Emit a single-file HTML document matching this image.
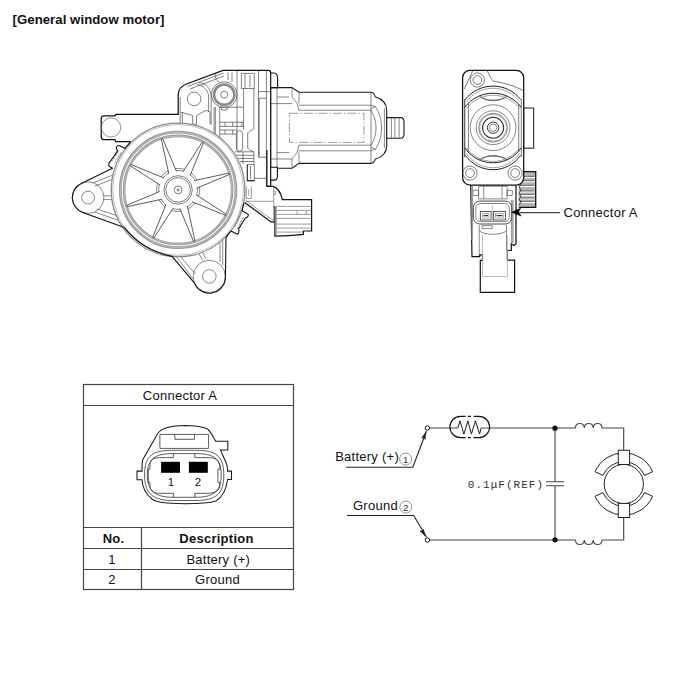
<!DOCTYPE html>
<html><head><meta charset="utf-8">
<style>
html,body{margin:0;padding:0;background:#fff;width:700px;height:677px;overflow:hidden}
svg{display:block}
text{font-family:"Liberation Sans",sans-serif;fill:#111;letter-spacing:0.25px}
.mono{font-family:"Liberation Mono",monospace}
</style></head><body>
<svg width="700" height="677" viewBox="0 0 700 677">
<g id="left">
<g fill="#fff" stroke="#1a1a1a" stroke-width="1.1">
<path d="M270.5,87.6 H292 L299,92.3 H371 C373,92.3 374.5,94 375.2,96.8 C382,99 386.7,103 386.7,110 V146 C386.7,153 382,157 375.2,159.2 C374.5,162 373,163.4 371,163.4 H299 L292,168.2 H270.5 Z"/>
<path d="M386.7,117.6 H400.5 C403,117.6 404,119.5 404,122 V134 C404,136.5 403,138.2 400.5,138.2 H386.7 Z"/>
</g>
<g fill="none" stroke="#555" stroke-width="0.7">
<path d="M391.4,117.6 V138.2 M394.9,117.6 V138.2 M399.1,117.6 V138.2"/>
<path d="M277,97 H289 M270.5,103.6 H292 M277,152.6 H289 M270.5,159 H292 M277,87.6 V168.2"/>
<path d="M292,87.6 V97 L297,103 L299,110.7 M299,92.5 V103.5 M292,168.2 V158.8 L297,152.8 L299,145 M299,163.2 V152.3"/>
<path d="M299,105.2 H371 M299,110.2 H371 M299,150.8 H371 M299,145.2 H371"/>
<path d="M371,92.3 V163.4 M384.4,108 V148 M371,105.2 L375.5,106.6 L371,108.5 M371,150.6 L375.5,149.2 L371,147.3"/>
<path d="M371,110.2 C374.5,116 376,122 376,128 C376,134 374.5,140 371,145.2 M375.5,106.6 C379.5,113 381.6,120 381.6,128 C381.6,136 379.5,143 375.5,149.2"/>
</g>
<path d="M289.4,113.3 H363.9 V142.4 H289.4 Z" fill="none" stroke="#777" stroke-width="0.7" stroke-dasharray="9,2,1.5,2"/>
<g fill="#fff" stroke="#111" stroke-width="1.25">
<path d="M223,70.4 H268.5 C270,70.4 270.7,71.3 270.7,73 V186.3 H245 L238,202 H178 V141.6 H115.6 L115,139.7 H104 C102.3,139.7 101.2,138.5 101.2,136.5 V119 C101.2,117 102.3,115.9 104,115.9 H115 L115.6,114.3 H178.2 V95 C178.2,90 181,86 186.5,84 Z" stroke="none"/>
<path d="M266.4,186.3 H270.7 V73 C270.7,71.3 270,70.4 268.5,70.4 H223 L186.5,84 C181,86 178.2,90 178.2,95 V114.3 H115.6 L115,115.9 H104 C102.3,115.9 101.2,117 101.2,119 V136.5 C101.2,138.5 102.3,139.7 104,139.7 H115 L115.6,141.6 H130.6" fill="none"/>
<path d="M270.7,73 H274 C276.6,73 277.6,75 277.6,78.5 V87.6 H270.7 Z" stroke-width="1.1"/>
<path d="M270.7,167.3 H277.4 V176.5 C277.4,179 276.4,180.1 274,180.1 H270.7 Z" stroke-width="1.1"/>
</g>
<g fill="none" stroke="#4a4a4a" stroke-width="0.7">
<path d="M187.5,86.5 L223.5,73 M190,89 L224,76"/>
<circle cx="194.1" cy="98.9" r="6.8"/>
<path d="M180.2,97 V125 M182.4,112 V123 M180.2,112 L192.7,115.5 V124.3 H196.5 V115.5 L206,110.3 L210,112 V124 M208.6,97 V112 M211.2,97 V125 M214.1,107 V140 M215.3,107 V140 M219.7,107 V140"/>
<path d="M197,84.5 C204,85.5 208.6,91 208.6,97 M199,82.5 C207,83.5 211.2,90 211.2,97"/>
<circle cx="224.2" cy="94.7" r="3.5"/><circle cx="224.2" cy="94.7" r="12.9"/>
<path d="M221.5,107.6 V110 H227 V107.6"/>
<path d="M237,70.5 V150 M243.6,88.5 V130 M253.9,88.5 V128 C253.9,131 247.7,130 247.7,134 V147 C247.7,151 253.9,150 253.9,153 V164.6 M258.5,70.5 V157.2 H266.4 M259.2,98.2 V157.2 M266.4,70.5 V186.3 M258.5,91.6 H270.7 M258.5,98.2 H266.4 M219.7,107.2 H243.6"/>
<path d="M241.4,73.4 H254.3 V88.5 H241.4 Z M245,73.4 V88.5 M250,75 V87 M247.3,164.6 H254.4 V180.6 H247.3 M250.5,166 V179"/>
<path d="M220,122.2 H244 M220,126.4 H244 M220,130 H236.4 M220,134.1 H236.4 M225,122.2 V126.4 M232.7,122.2 V126.4 M242,122.2 V126.4 M225,130 V134.1 M232.7,130 V134.1"/>
<path d="M235,151.8 H254 M235,155.3 H254 M237,158.4 H254 M240,161.5 H254 M243,152 V164 M254.4,178.4 H266.4"/>
<rect x="236.4" y="130.5" width="6.2" height="20.7" rx="3"/>
<path d="M247.3,164.6 V180.6 H254.4" stroke="#222" stroke-width="1.1"/>
<path d="M228,72.5 V80 M232,72.5 V82 M216,73 C214,77 216,80 219,82"/>
</g>
<circle cx="224.2" cy="94.7" r="10.2" fill="none" stroke="#8a8a8a" stroke-width="2.6"/>
<circle cx="111.1" cy="127.5" r="9.6" fill="none" stroke="#666" stroke-width="0.7"/>
<path d="M245,186.4 H273.1 C277.5,188 281,193 282.3,199.6 H311.6 V231 H303.4 V234.4 C295,235.5 285,236.2 274.9,236.2 V221.9 H270.9 L244.6,202.4 Z" fill="#fff" stroke="none"/>
<path d="M266.9,150 V186.4 H273.1 C277.5,188 281,193 282.3,199.6 H311.6 V231 H303.4 V234.4 C295,235.5 285,236.2 274.9,236.2 V206 M244.6,202.4 L270.9,221.9 H274.9" fill="none" stroke="#111" stroke-width="1.2"/>
<g fill="none" stroke="#666" stroke-width="0.65">
<path d="M246,201.3 H273.7 M273.7,186.4 V221.9 M245.5,200 L271.5,219.5 H273.7 M276,206.4 H311.6 M276,210.4 H311.6 M276,214.4 H311.6 M276,218.4 H311.6 M276,224.1 H311.6 M276,228.1 H311.6 M276,232.1 H303.4 M297.1,210.4 V214.4 M306.3,210.4 V214.4 M273.7,191 H275.4 V194.4 H273.7 M246.3,186.4 V198.4 H251.4 V186.4 M248.8,189 V196"/>
</g>
<path d="M276.4,206.4 V236" stroke="#999" stroke-width="0.9"/>
<path d="M130.6,141.6 L125,148.5 L119.8,145.8 C118,145 116.5,146 116.2,148.2 L117.6,150.9 L110.6,161 C108.5,163 108.4,165.5 109.3,166.3 L112.5,168.2 L81.2,183.4 A15.8,15.8 0 0 0 82.7,212.45 L124.4,227.6 L160,252 L172.1,256.4 L194.3,282.9 A16.1,16.1 0 0 0 225.4,278 L226,237.9 L231,231 L237.5,234.3 C239,233.5 239.5,232.5 238.6,228.9 L245.1,218.3 L247.5,217.1 C248.6,215.5 248.3,214.5 248.1,214.2 L241.9,210.6 L243.9,203.2 L200,150 Z" fill="#fff" stroke="none"/>
<g fill="none" stroke="#555" stroke-width="0.7">
<circle cx="88.1" cy="197.6" r="15.8"/><circle cx="88.1" cy="197.6" r="6.4"/>
<path d="M93,183 L118,173 M95,186 L118,177 M95,212 L120,221 M97,209 L121,217 M103.6,195.8 H114 M103.6,199.6 H114"/>
<circle cx="209.3" cy="276.4" r="16.1"/><circle cx="209.3" cy="276.4" r="6.8"/>
<path d="M176,256 L193,279 M179,255 L195,273.5 M222.7,239 V265 M220,241 V262 M198,252 L203,260.5 M201.5,250.5 L206,259"/>
</g>
<circle cx="178.1" cy="189.9" r="66.8" fill="#fff" stroke="#8a8a8a" stroke-width="1.3"/>
<circle cx="178.1" cy="189.9" r="65.4" fill="none" stroke="#b0b0b0" stroke-width="0.8"/>
<path d="M124.4,227.6 C138,244 152,252 172.1,256.4" fill="none" stroke="#111" stroke-width="1.25"/>
<circle cx="178.1" cy="189.9" r="57.8" fill="none" stroke="#9a9a9a" stroke-width="2.8"/>
<circle cx="178.1" cy="189.9" r="54" fill="none" stroke="#9a9a9a" stroke-width="2.6"/>
<circle cx="178.1" cy="189.9" r="57.8" fill="none" stroke="#ddd" stroke-width="0.5"/>
<circle cx="178.1" cy="189.9" r="54" fill="none" stroke="#ddd" stroke-width="0.5"/>
<circle cx="178.1" cy="189.9" r="21.5" fill="none" stroke="#555" stroke-width="0.7"/>
<circle cx="178.1" cy="189.9" r="19.4" fill="none" stroke="#555" stroke-width="0.7"/>
<path d="M176.44,171.34 L162.73,138.65 L161.3,139.1 L168.81,173.75 M190.05,175.6 L203.47,142.79 L202.14,142.1 L182.96,171.91 M196.66,188.24 L229.35,174.53 L228.9,173.1 L194.25,180.61 M192.4,201.85 L225.21,215.27 L225.9,213.94 L196.09,194.76 M179.76,208.46 L193.47,241.15 L194.9,240.7 L187.39,206.05 M166.15,204.2 L152.73,237.01 L154.06,237.7 L173.24,207.89 M159.54,191.56 L126.85,205.27 L127.3,206.7 L161.95,199.19 M163.8,177.95 L130.99,164.53 L130.3,165.86 L160.11,185.04 " fill="#fff" stroke="#333" stroke-width="0.8"/>
<g fill="none" stroke="#444" stroke-width="0.7">
<circle cx="178.1" cy="189.9" r="14.2"/><circle cx="178.1" cy="189.9" r="12.3"/>
<circle cx="178.1" cy="189.9" r="3.9"/>
</g>
<circle cx="178.1" cy="189.9" r="1.6" fill="#999"/>
<path d="M130.6,141.6 L125,148.5 L119.8,145.8 C118,145 116.5,146 116.2,148.2 L117.6,150.9 L110.6,161 C108.5,163 108.4,165.5 109.3,166.3 L112.5,168.2 L81.2,183.4 A15.8,15.8 0 0 0 82.7,212.45 L124.4,227.6 M172.1,256.4 L194.3,282.9 A16.1,16.1 0 0 0 225.4,278 L226,237.9 L228,234.6 L231,231 L237.5,234.3 C239,233.5 239.5,232.5 238.6,228.9 L245.1,218.3 L247.5,217.1 C248.6,215.5 248.3,214.5 248.1,214.2 L241.9,210.6 L243.9,203.2" fill="none" stroke="#111" stroke-width="1.1" stroke-linejoin="round"/>
<path d="M118.5,151.5 L112,161.5 M121,152.5 L114.5,163 M240.5,211.5 L234.5,227 M243,217 L237.5,229" fill="none" stroke="#666" stroke-width="0.7" stroke-dasharray="2.5,1"/>
</g>
<g id="right">
<path d="M519.5,171.6 H535.7 V207.4 H519 L518,205 L519.5,203 L518,200 L519.5,197.5 L518,195 L519.5,192.5 L518,190 L519.5,187.5 L518,185 L519.5,182 Z" fill="#b3b3b3" stroke="none"/>
<path d="M519.5,171.6 H535.7 V207.4 H519" fill="none" stroke="#111" stroke-width="1.3"/>
<path d="M520,177.5 H535 M520,181.7 H535 M520,186.5 H535 M520,192 H535 M520,195.6 H535 M520,199 H535 M520,202.5 H535" stroke="#fff" stroke-width="1.1"/>
<path d="M520,176.4 H534 M520,180.6 H534 M520,185.4 H534 M520,190.9 H534 M520,194.5 H534 M520,197.9 H534 M520,201.4 H534" stroke="#555" stroke-width="0.7"/>
<path d="M519,176 L521,178 L519,181 L521,184 L519,187 L521,190 L519,193 L521,196 L519,199 L521,202 L519,205" fill="none" stroke="#222" stroke-width="0.8"/>
<g fill="#fff" stroke="#111" stroke-width="1.2">
<path d="M470.6,180 H516 V243.8 L514,245.5 L511.3,243.8 V250.5 H507.4 V260.2 H514.6 V292.3 H480.3 V260.4 H482.5 V254.9 H479.7 V256.6 H472 Z"/>
</g>
<g fill="none" stroke="#555" stroke-width="0.7">
<path d="M478.6,186.3 H507.1 V198.9 H478.6 Z M483.7,186.3 V198.9 M502,186.3 V198.9 M472.9,190.3 H478.6 V195.4 H472.9 Z M507.1,190.3 H512.3 V195.4 H507.1 Z"/>
<path d="M479.2,225 V254.9 M506.5,225 V250.5 M479.2,230.5 C483,235.5 503,235.5 506.5,230.5 M482,225.7 H492.3 V228.6 H482 Z M515.7,208 V243 M513,200 V243"/>
</g>
<path d="M482.5,235 V276.5 H507.4 V235" fill="none" stroke="#aaa" stroke-width="0.8"/>
<path d="M472.2,186 V240 M511.8,200 V243" fill="none" stroke="#999" stroke-width="1.6"/>
<g fill="#fff" stroke="#111" stroke-width="1.25">
<path d="M523.7,108 H533.7 V148.2 H523.7 Z" stroke-width="1"/>
<rect x="462.6" y="70.3" width="61.1" height="114.8" rx="7.5"/>
</g>
<g fill="none" stroke="#444" stroke-width="0.7">
<circle cx="477.4" cy="80" r="7.1"/><circle cx="477.4" cy="80" r="4.4"/>
<circle cx="470" cy="173.1" r="7.1"/><circle cx="470" cy="173.1" r="4.4"/>
<circle cx="515.1" cy="173.1" r="7.1"/><circle cx="515.1" cy="173.1" r="4.4"/>
<path d="M472.9,70.3 L464.3,89.1 M487.1,70.3 C489,75 491,79 493.4,81.1 C503,82.5 515,86 523,90.3"/>
<path d="M464.7,99 V157"/>
<path d="M468.4,104 V152 M518.7,104 V152"/>
<path d="M479.3,95.6 C486,102.5 500,102.5 507.2,95.6 M481,97.5 C487,101 499,101 505.5,97.5 M479.3,160.5 C486,153.8 500,153.8 507.2,160.5 M481,158.5 C487,155.5 499,155.5 505.5,158.5"/>
</g>
<path d="M465.20,99.52 A35.5,35.5 0 0 1 520.80,99.52 M464.70,107.40 A35.3,35.3 0 0 1 521.30,107.40 M464.50,147.50 A34.2,34.2 0 0 0 521.30,147.80 M465.50,155.48 A33.7,33.7 0 0 0 520.50,155.48" fill="none" stroke="#222" stroke-width="1"/>
<path d="M466.50,101.43 A33.3,33.3 0 0 1 519.50,101.43 M466.50,108.33 A33.3,33.3 0 0 1 519.50,108.33 M466.50,147.93 A32.8,32.8 0 0 0 519.50,147.93 M466.50,153.40 A31.7,31.7 0 0 0 519.50,153.40" fill="none" stroke="#777" stroke-width="0.7"/>
<path d="M464.7,99 V157 M521.3,99 V157" fill="none" stroke="#444" stroke-width="0.7"/>
<g fill="none" stroke="#555" stroke-width="0.7">
<circle cx="493.1" cy="127.7" r="22.9"/>
<circle cx="493.1" cy="127.7" r="16.9"/>
<circle cx="493.1" cy="127.7" r="3.7"/>
</g>
<circle cx="493.1" cy="127.7" r="14.4" fill="none" stroke="#555" stroke-width="0.7"/><circle cx="493.1" cy="127.7" r="13.5" fill="none" stroke="#888" stroke-width="0.7"/>
<circle cx="493.1" cy="127.7" r="10.5" fill="none" stroke="#333" stroke-width="1.1"/>
<circle cx="493.1" cy="127.7" r="5.7" fill="none" stroke="#333" stroke-width="1"/>
<g fill="#fff" stroke="#333" stroke-width="0.9">
<rect x="473.4" y="201.1" width="38.3" height="22.9" rx="6.5"/>
<rect x="475.8" y="203.5" width="33.5" height="18.1" rx="4.5" fill="none" stroke="#777" stroke-width="0.9"/>
<rect x="480.3" y="211.4" width="10.8" height="8.6" stroke-width="0.8"/>
<rect x="493.4" y="211.4" width="12" height="8.6" stroke-width="0.8"/>
<path d="M482.5,213.5 H489 V218 H482.5 Z M495.5,213.5 H503.4 V218 H495.5 Z" stroke="#888" stroke-width="0.7"/>
<path d="M483.5,215.7 H488 M496.5,215.7 H502.4" stroke="#333" stroke-width="1.2"/>
<path d="M492.3,205 V222" stroke="#999" stroke-width="0.6"/>
</g>
</g>
<text x="12.5" y="24" font-size="13.2" font-weight="bold" style="letter-spacing:0.05px">[General window motor]</text>

<!-- TABLE -->
<g fill="none" stroke="#444" stroke-width="1.2">
<rect x="83.5" y="384.5" width="210" height="205"/>
<line x1="83.5" y1="405.5" x2="293.5" y2="405.5"/>
<line x1="83.5" y1="527.5" x2="293.5" y2="527.5"/>
<line x1="83.5" y1="548.5" x2="293.5" y2="548.5"/>
<line x1="83.5" y1="569.5" x2="293.5" y2="569.5"/>
<line x1="141.5" y1="527.5" x2="141.5" y2="589.5"/>
</g>
<text x="180" y="400" font-size="13" text-anchor="middle">Connector A</text>
<text x="113.5" y="542.5" font-size="13" font-weight="bold" text-anchor="middle">No.</text>
<text x="216.5" y="542.5" font-size="13" font-weight="bold" text-anchor="middle">Description</text>
<text x="112" y="563.5" font-size="13" text-anchor="middle">1</text>
<text x="218.3" y="563.5" font-size="13" text-anchor="middle">Battery (+)</text>
<text x="112" y="584" font-size="13" text-anchor="middle">2</text>
<text x="217.5" y="584" font-size="13" text-anchor="middle">Ground</text>

<!-- connector face -->
<g fill="none" stroke="#1a1a1a" stroke-width="1.05">
<path d="M185,425.5 C172,425.6 162,427.5 157.9,433.3 L142.6,459.9 C142,463 142,467 142,471.1 L137,471.1 V479.7 H142 C142.3,486 144.5,493 151.9,499 C157,502.5 165,503.5 185,503.7 C204,503.7 211,502.5 215.9,501 C222,497.5 226,491 227.6,479.5 H231.5 V471.1 H227.6 C227.4,467 227,465 226.5,463.8 L220.5,449.9 H227.8 V441.3 H215.6 L211.9,434.6 C209,430 207,428.6 206.6,428.6 C200,426 193,425.5 185,425.5 Z"/>
</g>
<g fill="none" stroke="#333" stroke-width="0.8">
<path d="M159.9,434.4 H208.6 V448.4 H159.9 Z M174.8,434.4 V439.3 H194.6 V434.4"/>
<path d="M173,450.3 H196 C215,450.3 223.8,455 223.8,475 C223.8,494 216,500.5 196,500.5 H173 C153,500.5 144.6,494 144.6,475 C144.6,455 153,450.3 173,450.3 Z"/>
<path d="M173,453.6 H196 C213,453.6 221.2,458 221.2,475 C221.2,491.5 213,497.3 196,497.3 H173 C156,497.3 147.3,491.5 147.3,475 C147.3,458 156,453.6 173,453.6 Z"/>
<path d="M173.4,453.6 V457.6 H160 C152,457.6 150,461 150,466 V469.2 H148.3 V482.4 H150 V485 C150,490 152,493.3 160,493.3 H173.4 V497.3 M194.8,453.6 V457.6 H208 C216,457.6 219.9,461 219.9,466 V469.2 H217.9 V482.4 H219.9 V485 C219.9,490 216,493.3 208,493.3 H194.8 V497.3"/>
</g>
<rect x="161.1" y="461.8" width="18.9" height="11" fill="#000"/>
<rect x="188.9" y="461.8" width="18.9" height="11" fill="#000"/>
<text x="171" y="485.7" font-size="11.5" text-anchor="middle">1</text>
<text x="198" y="485.7" font-size="11.5" text-anchor="middle">2</text>

<!-- CIRCUIT -->
<g fill="none" stroke="#444" stroke-width="1.1">
<path d="M429.5,428 H457.9 M481.1,428 H575.5 M602,428 H623.7 V450.3"/>
<path d="M429.5,540 H575.5 M602,540 H623.7 V517.5"/>
<path d="M555,428 V481.8 M555,485.7 V540"/>
<path d="M546,481.8 H564 M546,485.7 H564"/>
<path d="M457.9,428 L460,420.9 L463.9,434.1 L467.9,420.9 L471.4,434.1 L475.4,420.9 L479.6,434.1 L481.1,428" stroke="#111" stroke-width="0.95" stroke-linejoin="round"/>
<path d="M460.5,416.4 H465.7 M467.9,416.4 H471 M473.6,416.4 H479 A10.6,10.6 0 0 1 479,437.6 H473.6 M471,437.6 H467.9 M465.7,437.6 H460.5 A10.6,10.6 0 0 1 460.5,416.4" stroke="#111"/>
<path d="M575.5,428 C575.5,422 584,422 584.3,428 C584.5,422 593,422 593.2,428 C593.4,422 602,422 602,428"/>
<path d="M575.5,540 C575.5,546 584,546 584.3,540 C584.5,546 593,546 593.2,540 C593.4,546 602,546 602,540"/>
<path d="M346,467.2 H412.8 L426.5,431" stroke="#222"/>
<path d="M347,515.5 H413.7 L426.5,537" stroke="#222"/>
</g>
<circle cx="427.4" cy="428" r="2.2" fill="#fff" stroke="#111" stroke-width="1"/>
<circle cx="427.4" cy="540" r="2.2" fill="#fff" stroke="#111" stroke-width="1"/>
<circle cx="555" cy="428.2" r="2.6" fill="#111"/>
<circle cx="555" cy="539.8" r="2.6" fill="#111"/>
<g fill="none" stroke="#222" stroke-width="1">
<circle cx="623.8" cy="484" r="19.6"/>
<path d="M595,471.7 A31.4,31.4 0 0 1 652.6,471.7 L644.6,475.4 A22.6,22.6 0 0 0 603,475.4 Z"/>
<path d="M595,496.3 A31.4,31.4 0 0 0 652.6,496.3 L644.6,492.6 A22.6,22.6 0 0 1 603,492.6 Z"/>
<rect x="618.3" y="450.3" width="11.3" height="14.2" fill="#fff"/>
<rect x="618.3" y="503.4" width="11.3" height="14.1" fill="#fff"/>
</g>
<text x="335.2" y="461.4" font-size="13">Battery (+)</text>
<text x="353" y="510.3" font-size="13">Ground</text>
<g fill="none" stroke="#666" stroke-width="0.7"><circle cx="405.6" cy="459.1" r="6"/><circle cx="405.8" cy="507.1" r="6"/></g>
<text x="405.6" y="462.6" font-size="9.5" text-anchor="middle" style="fill:#333;letter-spacing:0">1</text>
<text x="405.8" y="510.6" font-size="9.5" text-anchor="middle" style="fill:#333;letter-spacing:0">2</text>
<text class="mono" x="467.8" y="488.4" font-size="11" style="letter-spacing:1.02px;fill:#333">0.1μF(REF)</text>

<path d="M425.8,432.2 L425.2,439.5 L423.4,437.5 L421.5,438.1 Z M425.2,536.1 L420,531 L422.5,530.8 L423.5,529 Z" fill="#222" stroke="#222" stroke-width="0.5"/>
<!-- Connector A label -->
<text x="563.5" y="217" font-size="13">Connector A</text>
<line x1="518" y1="212.6" x2="560" y2="212.6" stroke="#444" stroke-width="1.1"/>
<path d="M511.8,212.3 L520.6,208.3 L518.2,212.3 L521.2,216 Z" fill="#000" stroke="#000" stroke-width="0.6" stroke-linejoin="round"/>

</svg>
</body></html>
